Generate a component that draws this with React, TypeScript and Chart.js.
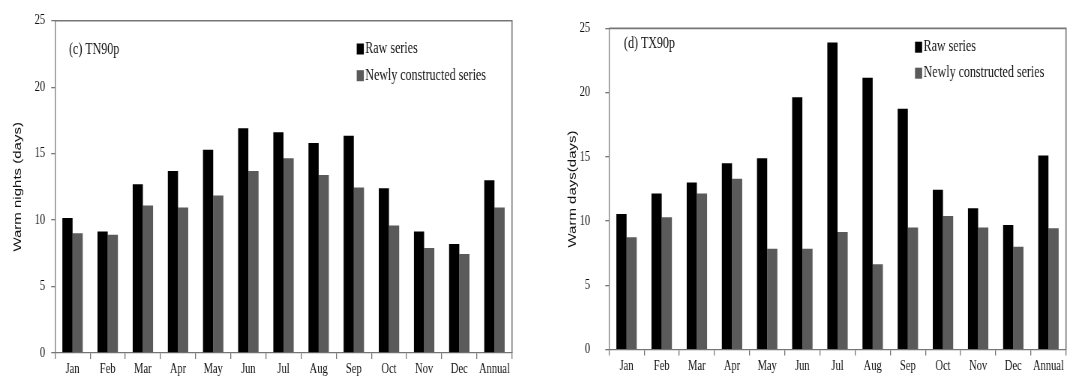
import React, { useEffect, useRef } from 'react';
import { Chart, registerables } from 'chart.js';

Chart.register(...registerables);

// Categories and series values (days)
const months = ['Jan', 'Feb', 'Mar', 'Apr', 'May', 'Jun', 'Jul', 'Aug', 'Sep', 'Oct', 'Nov', 'Dec', 'Annual'];
const seriesNames = ['Raw series', 'Newly constructed series'];
const tn90pRaw = [10.15, 9.15, 12.7, 13.7, 15.3, 16.9, 16.6, 15.8, 16.35, 12.4, 9.15, 8.2, 13.0];
const tn90pNew = [9.0, 8.9, 11.1, 10.95, 11.85, 13.7, 14.65, 13.4, 12.45, 9.6, 7.9, 7.45, 10.95];
const tx90pRaw = [10.55, 12.15, 13.0, 14.5, 14.9, 19.65, 23.9, 21.15, 18.75, 12.45, 11.0, 9.7, 15.1];
const tx90pNew = [8.75, 10.3, 12.15, 13.3, 7.85, 7.85, 9.15, 6.65, 9.5, 10.4, 9.5, 8.0, 9.45];
const yMin = 0;
const yMax = 25;
const yStep = 5;

const RAW_COLOR = '#000000';
const NEW_COLOR = '#5a5a5a';
const AXIS_COLOR = '#767676';
const TEXT_COLOR = '#111111';
const SERIF = '"Liberation Serif", "Times New Roman", serif';
const SANS = '"Liberation Sans", Arial, sans-serif';

// Horizontal squeeze applied to each panel's canvas (narrow serif look)
const SQUEEZE = 0.75;

// Draws the frame's top/right edges, the panel tag and an in-plot legend
const panelDecor = {
  id: 'panelDecor',
  afterDraw(chart: any, _args: any, opts: any) {
    const { ctx, chartArea } = chart;
    const { left, top, right, bottom } = chartArea;
    ctx.save();
    ctx.strokeStyle = AXIS_COLOR;
    ctx.lineWidth = 1.6;
    ctx.beginPath();
    ctx.moveTo(left, top);
    ctx.lineTo(right, top);
    ctx.lineTo(right, bottom);
    ctx.stroke();

    ctx.font = `16px ${SERIF}`;
    ctx.textBaseline = 'middle';
    ctx.textAlign = 'left';
    ctx.fillStyle = TEXT_COLOR;
    ctx.fillText(opts.label, opts.labelX, opts.labelY);

    chart.data.datasets.forEach((ds: any, i: number) => {
      const y = opts.legendY + i * opts.legendGap;
      ctx.fillStyle = ds.backgroundColor;
      ctx.fillRect(opts.legendX, y - 5.5, 9.5, 11);
      ctx.fillStyle = TEXT_COLOR;
      ctx.fillText(ds.label, opts.legendX + 11.5, y);
    });
    ctx.restore();
  },
};

type PanelProps = {
  left: number;
  width: number;
  label: string;
  yTitle: string;
  raw: number[];
  fresh: number[];
  plotLeft: number;
  plotRight: number;
  plotTop: number;
  plotBottom: number;
  yTickPad: number;
  yTitleCenter: number;
  labelX: number;
  labelY: number;
  legendX: number;
  legendY: number;
  legendGap: number;
};

function Panel(p: PanelProps) {
  const ref = useRef<HTMLCanvasElement | null>(null);
  const H = 378;

  useEffect(() => {
    if (!ref.current) return;
    const chart = new Chart(ref.current, {
      type: 'bar',
      data: {
        labels: months,
        datasets: [
          { label: seriesNames[0], data: p.raw, backgroundColor: RAW_COLOR, borderWidth: 0 },
          { label: seriesNames[1], data: p.fresh, backgroundColor: NEW_COLOR, borderWidth: 0 },
        ],
      },
      options: {
        animation: false,
        responsive: false,
        devicePixelRatio: 1,
        layout: {
          padding: { left: 0, top: p.plotTop, right: p.width - p.plotRight, bottom: 0 },
        },
        datasets: {
          bar: { categoryPercentage: 0.58, barPercentage: 1.0 },
        },
        plugins: {
          legend: { display: false },
          tooltip: { enabled: false },
          title: { display: false },
          panelDecor: {
            label: p.label,
            labelX: p.labelX,
            labelY: p.labelY,
            legendX: p.legendX,
            legendY: p.legendY,
            legendGap: p.legendGap,
          },
        } as any,
        scales: {
          x: {
            grid: {
              display: true,
              drawOnChartArea: false,
              drawTicks: true,
              tickLength: 6,
              color: AXIS_COLOR,
              lineWidth: 1.3,
              offset: true,
            },
            border: { display: true, color: AXIS_COLOR, width: 1.3 },
            ticks: {
              font: { family: SERIF, size: 14 },
              color: TEXT_COLOR,
              padding: 2,
              maxRotation: 0,
              autoSkip: false,
            },
            afterFit: (s: any) => {
              s.height = H - p.plotBottom;
            },
          },
          y: {
            min: yMin,
            max: yMax,
            ticks: {
              stepSize: yStep,
              font: { family: SERIF, size: 14 },
              color: TEXT_COLOR,
              padding: p.yTickPad,
            },
            grid: {
              drawOnChartArea: false,
              drawTicks: true,
              tickLength: 5,
              color: AXIS_COLOR,
              lineWidth: 1.3,
            },
            border: { display: true, color: AXIS_COLOR, width: 1.3 },
            title: {
              display: true,
              text: p.yTitle,
              font: { family: SANS, size: 15 },
              color: TEXT_COLOR,
              padding: { top: p.yTitleCenter - 9, bottom: 0 },
            },
            afterFit: (s: any) => {
              s.width = p.plotLeft;
            },
          },
        },
      },
      plugins: [panelDecor],
    });
    return () => chart.destroy();
  }, []);

  return (
    <div
      style={{
        position: 'absolute',
        left: p.left,
        top: 0,
        width: p.width,
        height: H,
        transform: `scaleX(${SQUEEZE})`,
        transformOrigin: '0 0',
      }}
    >
      <canvas ref={ref} width={p.width} height={H} style={{ width: p.width, height: H, display: 'block' }} />
    </div>
  );
}

export default function App() {
  return (
    <div
      style={{
        position: 'fixed',
        left: 0,
        top: 0,
        width: 1089,
        height: 378,
        overflow: 'hidden',
        background: '#ffffff',
      }}
    >
      <Panel
        left={0}
        width={727}
        label="(c) TN90p"
        yTitle="Warm nights (days)"
        raw={tn90pRaw}
        fresh={tn90pNew}
        plotLeft={73.3}
        plotRight={682.7}
        plotTop={20.7}
        plotBottom={353}
        yTickPad={8}
        yTitleCenter={23.6}
        labelX={92}
        labelY={50}
        legendX={475.6}
        legendY={49}
        legendGap={26.7}
      />
      <Panel
        left={545}
        width={726}
        label="(d) TX90p"
        yTitle="Warm days(days)"
        raw={tx90pRaw}
        fresh={tx90pNew}
        plotLeft={85.3}
        plotRight={694.7}
        plotTop={16.7}
        plotBottom={351.7}
        yTickPad={20}
        yTitleCenter={36.7}
        labelX={105.3}
        labelY={43.5}
        legendX={493.3}
        legendY={47.2}
        legendGap={26}
      />
    </div>
  );
}
